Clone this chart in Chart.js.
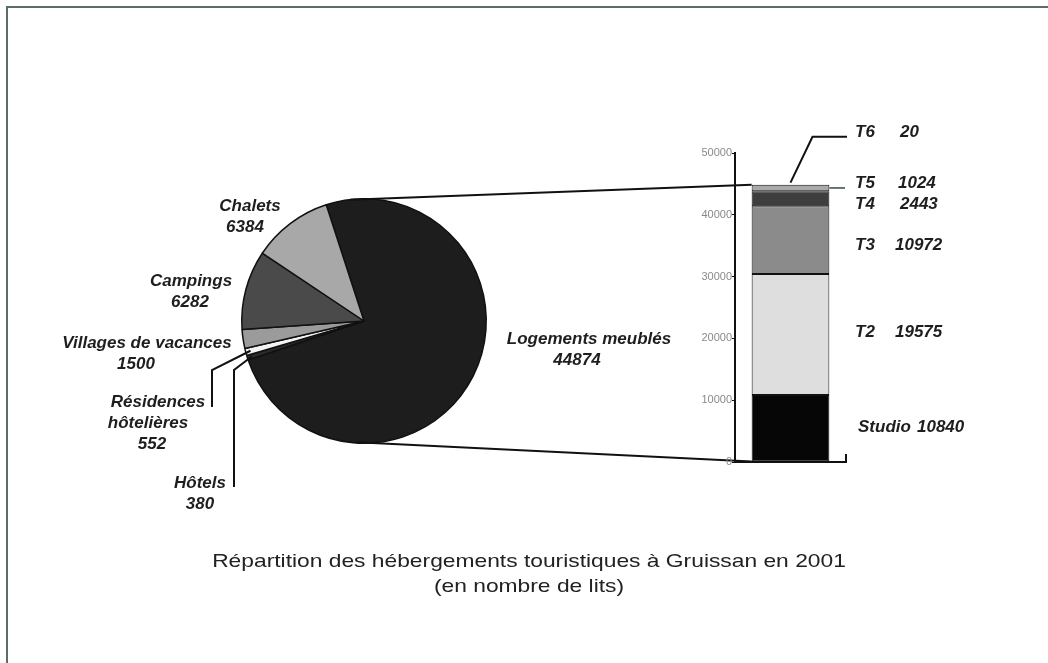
<!DOCTYPE html>
<html>
<head>
<meta charset="utf-8">
<title>Hébergements touristiques à Gruissan</title>
<script src="https://cdn.jsdelivr.net/npm/chart.js@4"></script>
<style>
  html, body { margin: 0; padding: 0; background: #fff; }
  #page { position: relative; width: 1048px; height: 663px; overflow: hidden; background: #fff; }
  #frame { position: absolute; left: 6px; top: 6px; right: -4px; bottom: -4px;
           border-top: 2px solid #5d6b6b; border-left: 2px solid #5d6b6b; }
  #pieWrap { position: absolute; left: 0; top: 0; width: 1048px; height: 663px; }
  #barWrap { position: absolute; left: 680px; top: 120px; width: 320px; height: 360px; }
</style>
</head>
<body>
<div id="page">
  <div id="frame"></div>
  <div id="pieWrap"><canvas id="pieChart"></canvas></div>
  <div id="barWrap"><canvas id="barChart"></canvas></div>
</div>
<script>
// Pie: beds by type of accommodation (clockwise from the top-left)
const pieCategories = ['Logements meublés', 'Hôtels', 'Résidences hôtelières', 'Villages de vacances', 'Campings', 'Chalets'];
const pieValues = [44874, 380, 552, 1500, 6282, 6384];
const pieLabelNames = [['Logements meublés'], ['Hôtels'], ['Résidences', 'hôtelières'], ['Villages de vacances'], ['Campings'], ['Chalets']];
const pieColors = ['#1d1d1d', '#2a2a2a', '#f4f4f4', '#9b9b9b', '#4a4a4a', '#a8a8a8'];

// Column: furnished lodgings split by size
const stackCategories = ['Studio', 'T2', 'T3', 'T4', 'T5', 'T6'];
const stackValues = [10840, 19575, 10972, 2443, 1024, 20];
const stackColors = ['#060606', '#dedede', '#8b8b8b', '#3e3e3e', '#a9a9a9', '#d0d0d0'];

const yMax = 50000;
const yStep = 10000;

const titleLines = ['Répartition des hébergements touristiques à Gruissan en 2001', '(en nombre de lits)'];

// label placement (offsets from the pie centre / column segments)
const pieLabelPos = [
  { dx: 225, dy: 18, shift: [0, -12] },
  { dx: -164, dy: 162, shift: [0, 0] },
  { dx: -206, dy: 81, shift: [0, -10, -6] },
  { dx: -217, dy: 22, shift: [0, -11] },
  { dx: -173, dy: -40, shift: [0, -1] },
  { dx: -114, dy: -115, shift: [0, -5] }
];
const pieLeaders = [null, [[-130, 49], [-130, 166]], [[-152, 49], [-152, 86]], null, null, null];
const stackLabelPos = [
  { nameDx: 12, valueDx: 71, dy: -1 },
  { nameDx: 9, valueDx: 49, dy: -2 },
  { nameDx: 9, valueDx: 49, dy: 5 },
  { nameDx: 9, valueDx: 54, dy: 6 },
  { nameDx: 9, valueDx: 52, dy: -5 },
  { nameDx: 9, valueDx: 54, dy: -52 }
];

const labelFont = 'italic bold 17px "Liberation Sans", Arial, sans-serif';
const inkColor = '#1e1e1e';

const columnLabels = {
  id: 'columnLabels',
  afterDraw(chart) {
    const ctx = chart.ctx;
    const area = chart.chartArea;
    const bars = stackCategories.map((c, i) => chart.getDatasetMeta(i).data[0]);
    ctx.save();
    ctx.font = labelFont;
    ctx.fillStyle = inkColor;
    ctx.textBaseline = 'middle';
    ctx.textAlign = 'left';
    const ys = [];
    bars.forEach((b, i) => {
      const y = (b.y + b.base) / 2 + stackLabelPos[i].dy;
      ys.push(y);
      ctx.fillText(stackCategories[i], area.right + stackLabelPos[i].nameDx, y);
      ctx.fillText(String(stackValues[i]), area.right + stackLabelPos[i].valueDx, y);
    });
    ctx.strokeStyle = '#111';
    ctx.lineWidth = 2;
    // end tick of the category axis
    ctx.beginPath();
    ctx.moveTo(area.right, area.bottom + 1);
    ctx.lineTo(area.right, area.bottom - 8);
    ctx.stroke();
    // leader for T6
    const t6 = bars[5];
    const ly = ys[5] + 4;
    ctx.beginPath();
    ctx.moveTo(t6.x, t6.y - 2);
    ctx.lineTo(t6.x + 22, ly);
    ctx.lineTo(area.right + 1, ly);
    ctx.stroke();
    // leader for T5
    const t5 = bars[4];
    ctx.lineWidth = 1.5;
    ctx.strokeStyle = '#2c4c4c';
    ctx.beginPath();
    ctx.moveTo(t5.x + t5.width / 2, (t5.y + t5.base) / 2);
    ctx.lineTo(area.right - 1, (t5.y + t5.base) / 2);
    ctx.stroke();
    ctx.restore();
  }
};

const barChart = new Chart(document.getElementById('barChart'), {
  type: 'bar',
  data: {
    labels: [''],
    datasets: stackCategories.map((c, i) => ({
      label: c,
      data: [stackValues[i]],
      backgroundColor: stackColors[i],
      borderColor: '#111',
      borderWidth: 1,
      borderSkipped: false
    }))
  },
  options: {
    responsive: true,
    maintainAspectRatio: false,
    animation: false,
    events: [],
    layout: { padding: { left: 0, right: 154, top: 33, bottom: 18 } },
    datasets: { bar: { categoryPercentage: 1, barPercentage: 0.7 } },
    plugins: { legend: { display: false }, tooltip: { enabled: false } },
    scales: {
      x: {
        stacked: true,
        grid: { display: false },
        ticks: { display: false },
        border: { display: true, color: '#111', width: 2 },
        afterFit: s => { s.height = 0; }
      },
      y: {
        stacked: true,
        min: 0,
        max: yMax,
        ticks: {
          stepSize: yStep,
          color: '#8a8a8a',
          padding: 0,
          font: { family: '"Liberation Sans", Arial, sans-serif', size: 11 },
          callback: v => String(v)
        },
        grid: { drawOnChartArea: false, drawTicks: true, tickLength: 3, color: '#111' },
        border: { color: '#111', width: 2 },
        afterFit: s => { s.width = 55; }
      }
    }
  },
  plugins: [columnLabels]
});

const pieExtras = {
  id: 'pieExtras',
  afterDraw(chart) {
    const ctx = chart.ctx;
    const arcs = chart.getDatasetMeta(0).data;
    const cx = arcs[0].x, cy = arcs[0].y, r = arcs[0].outerRadius;
    ctx.save();

    // lines joining the pie to the column
    const pr = chart.canvas.getBoundingClientRect();
    const br = barChart.canvas.getBoundingClientRect();
    const ox = br.left - pr.left, oy = br.top - pr.top;
    const bottomBar = barChart.getDatasetMeta(0).data[0];
    const topBar = barChart.getDatasetMeta(stackCategories.length - 1).data[0];
    const colLeft = bottomBar.x - bottomBar.width / 2 + ox;
    ctx.strokeStyle = '#111';
    ctx.lineWidth = 2;
    ctx.beginPath();
    ctx.moveTo(cx - 14, cy - r + 1);
    ctx.lineTo(colLeft, topBar.y + oy);
    ctx.moveTo(cx - 7, cy + r - 1);
    ctx.lineTo(colLeft, bottomBar.base + oy);
    ctx.stroke();

    // leaders for the thin slices
    arcs.forEach((a, i) => {
      const pts = pieLeaders[i];
      if (!pts) return;
      const mid = (a.startAngle + a.endAngle) / 2;
      ctx.beginPath();
      ctx.moveTo(cx + Math.cos(mid) * r * 0.96, cy + Math.sin(mid) * r * 0.96);
      pts.forEach(p => ctx.lineTo(cx + p[0], cy + p[1]));
      ctx.stroke();
    });

    // slice labels
    ctx.font = labelFont;
    ctx.fillStyle = inkColor;
    ctx.textAlign = 'center';
    ctx.textBaseline = 'middle';
    pieValues.forEach((v, i) => {
      const lines = pieLabelNames[i].concat([String(v)]);
      const pos = pieLabelPos[i];
      lines.forEach((t, k) => {
        ctx.fillText(t, cx + pos.dx + (pos.shift[k] || 0), cy + pos.dy + k * 21);
      });
    });

    // title, slightly stretched horizontally
    ctx.font = '19px "Liberation Sans", Arial, sans-serif';
    ctx.fillStyle = '#222';
    ctx.textBaseline = 'alphabetic';
    ctx.translate(529, 0);
    ctx.scale(1.2, 1);
    titleLines.forEach((t, k) => ctx.fillText(t, 0, 567 + k * 25));
    ctx.restore();
  }
};

new Chart(document.getElementById('pieChart'), {
  type: 'pie',
  data: {
    labels: pieCategories,
    datasets: [{
      data: pieValues,
      backgroundColor: pieColors,
      borderColor: '#111',
      borderWidth: 1.5
    }]
  },
  options: {
    responsive: true,
    maintainAspectRatio: false,
    animation: false,
    events: [],
    rotation: -18,
    layout: { padding: { left: 241, right: 561, top: 198, bottom: 219 } },
    plugins: { legend: { display: false }, tooltip: { enabled: false } }
  },
  plugins: [pieExtras]
});
</script>
</body>
</html>
